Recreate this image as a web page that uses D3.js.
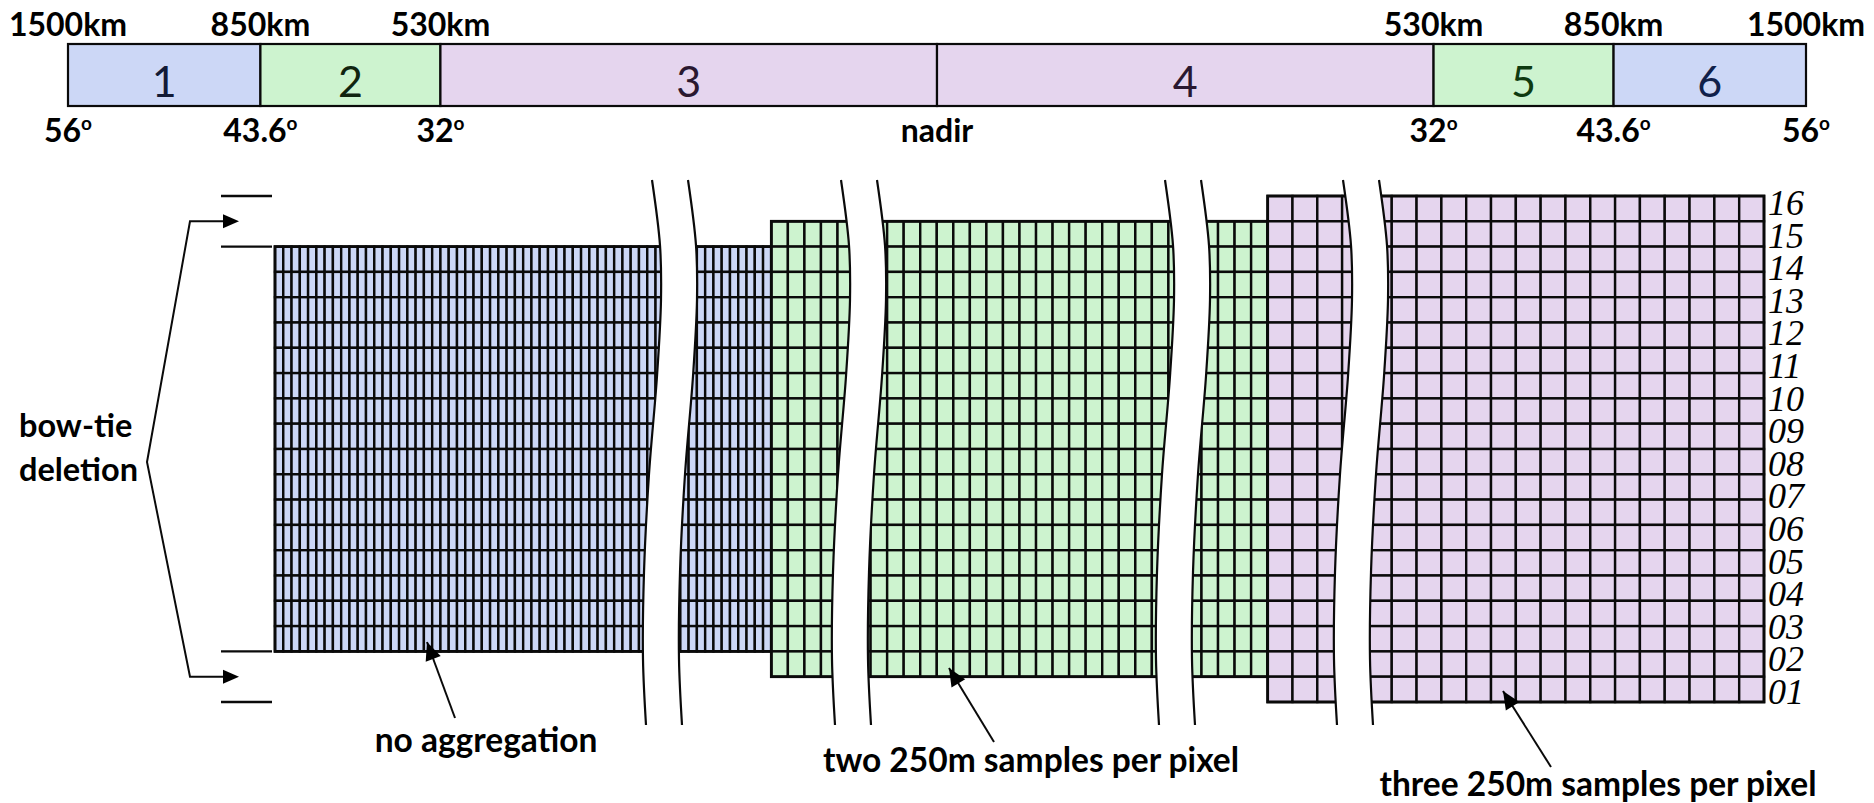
<!DOCTYPE html>
<html><head><meta charset="utf-8">
<script src="https://cdn.jsdelivr.net/npm/d3@7/dist/d3.min.js"></script>
<style>body{margin:0;background:#fff} svg{display:block}</style>
</head><body>
<svg id="c" width="1874" height="803"></svg>
<script>
// ---------------- data ----------------
const zoneNames = ["1","2","3","4","5","6"];
const zoneBounds = [-56, -43.6, -32, 0, 32, 43.6, 56];          // scan angle, degrees
const zoneAggregation = [0, 1, 2, 2, 1, 0];                     // index into aggregation arrays
const kmLabels = ["1500km","850km","530km","530km","850km","1500km"];
const kmAngles = [-56, -43.6, -32, 32, 43.6, 56];
const angleLabels = ["56","43.6","32","nadir","32","43.6","56"];
const angleLabelAngles = [-56, -43.6, -32, 0, 32, 43.6, 56];
const aggregationNames = ["no aggregation","two 250m samples per pixel","three 250m samples per pixel"];
const samplesPerPixel = [1, 2, 3];
const pixelColumns = [60, 30, 20];
const pixelRows = [16, 18, 20];
const detectorLabels = ["01","02","03","04","05","06","07","08","09","10","11","12","13","14","15","16"];
const bowTieLabel = ["bow-tie","deletion"];

// ---------------- styles / layout ----------------
const fills = ["#ccd7f6", "#cdf3cf", "#e5d5ee"];
const numColors = ["#121a36", "#10240f", "#2a1830", "#2a1830", "#0e3a10", "#10204a"];
const sans = "Lato, 'Open Sans', sans-serif";
const serif = "'Liberation Serif', 'DejaVu Serif', serif";
const ink = "#0a0a0a";
const boldSize = 32.5;

const svg = d3.select("#c");

// ---- top scan bar ----
const x = d3.scaleLinear().domain([-56, 56]).range([68, 1806]);
const barTop = 44, barBot = 106;
const zones = zoneNames.map((n, i) => ({name: n, a0: zoneBounds[i], a1: zoneBounds[i + 1], agg: zoneAggregation[i], i}));

svg.append("g").selectAll("rect").data(zones).join("rect")
  .attr("x", d => x(d.a0)).attr("y", barTop)
  .attr("width", d => x(d.a1) - x(d.a0)).attr("height", barBot - barTop)
  .attr("fill", d => fills[d.agg]).attr("stroke", ink).attr("stroke-width", 2.2);

svg.append("g").selectAll("text").data(zones).join("text")
  .attr("x", d => (x(d.a0) + x(d.a1)) / 2).attr("y", 97)
  .attr("text-anchor", "middle").attr("font-family", sans).attr("font-size", 43)
  .attr("fill", d => numColors[d.i]).text(d => d.name);

svg.append("g").selectAll("text").data(kmLabels).join("text")
  .attr("x", (d, i) => x(kmAngles[i])).attr("y", 36)
  .attr("text-anchor", "middle").attr("font-family", sans).attr("font-weight", 700)
  .attr("font-size", 32).attr("fill", "#000").text(d => d);

const al = svg.append("g").selectAll("text").data(angleLabels).join("text")
  .attr("x", (d, i) => x(angleLabelAngles[i])).attr("y", 142)
  .attr("text-anchor", "middle").attr("font-family", sans).attr("font-weight", 700)
  .attr("font-size", 32).attr("fill", "#000");
al.append("tspan").text(d => d);
al.filter(d => d !== "nadir").append("tspan").attr("font-size", 19).attr("dy", -12).text("o");

// ---- pixel grids ----
const gx = d3.scaleLinear().domain([0, 3]).range([275, 1764]);
const gy = d3.scaleLinear().domain([0, 20]).range([196, 702]);

const gridG = svg.append("g");
samplesPerPixel.forEach((s, i) => {
  const r0 = (20 - pixelRows[i]) / 2;
  const cx = d3.scaleLinear().domain([0, pixelColumns[i]]).range([gx(i), gx(i + 1)]);
  const cy = d3.scaleLinear().domain([0, pixelRows[i]]).range([gy(r0), gy(r0 + pixelRows[i])]);
  const cells = [];
  for (let r = 0; r < pixelRows[i]; r++) for (let c = 0; c < pixelColumns[i]; c++) cells.push({r, c});
  const g = gridG.append("g");
  g.selectAll("rect").data(cells).join("rect")
    .attr("x", d => cx(d.c)).attr("y", d => cy(d.r))
    .attr("width", cx(1) - cx(0)).attr("height", cy(1) - cy(0))
    .attr("fill", fills[i]).attr("stroke", ink).attr("stroke-width", 2.4);
  g.append("rect").attr("x", cx(0)).attr("y", cy(0))
    .attr("width", cx(pixelColumns[i]) - cx(0)).attr("height", cy(pixelRows[i]) - cy(0))
    .attr("fill", "none").attr("stroke", ink).attr("stroke-width", 2.8);
});

// ---- breaks (wavy gaps) ----
const breakX = [652, 841, 1165, 1343];
const breakGap = 36, breakTop = 180, breakBot = 725;
const shape = [[0, 0], [0.12, 8], [0.22, 9], [0.36, 5], [0.54, -3], [0.72, -8], [0.88, -9], [1, -6]];
const curve = d3.line().curve(d3.curveCatmullRom);
const by = d3.scaleLinear().domain([0, 1]).range([breakTop, breakBot]);
breakX.forEach(bx => {
  const lp = shape.map(p => [bx + p[1], by(p[0])]);
  const rp = shape.map(p => [bx + breakGap + p[1], by(p[0])]);
  const lPath = curve(lp), rPath = curve(rp.slice().reverse());
  svg.append("path").attr("d", lPath + "L" + rPath.slice(1) + "Z").attr("fill", "#fff").attr("stroke", "none");
  svg.append("path").attr("d", curve(lp)).attr("fill", "none").attr("stroke", ink).attr("stroke-width", 2.2);
  svg.append("path").attr("d", curve(rp)).attr("fill", "none").attr("stroke", ink).attr("stroke-width", 2.2);
});

// ---- arrowheads ----
function arrowHead(g, tip, from, len = 16, half = 7) {
  const ang = Math.atan2(tip[1] - from[1], tip[0] - from[0]);
  const bx = tip[0] - len * Math.cos(ang), byy = tip[1] - len * Math.sin(ang);
  const px = -Math.sin(ang) * half, py = Math.cos(ang) * half;
  g.append("path").attr("d", `M${tip[0]},${tip[1]}L${bx + px},${byy + py}L${bx - px},${byy - py}Z`).attr("fill", "#000");
}

// ---- bow-tie deletion bracket ----
const bt = svg.append("g");
[0, 2, 18, 20].forEach(r => {
  bt.append("line").attr("x1", 221).attr("x2", 272).attr("y1", gy(r)).attr("y2", gy(r))
    .attr("stroke", ink).attr("stroke-width", 2.4);
});
const yTopArrow = gy(1), yBotArrow = gy(19), yApex = 462;
bt.append("path").attr("d", `M226,${yTopArrow}L190,${yTopArrow}L147,${yApex}L190,${yBotArrow}L226,${yBotArrow}`)
  .attr("fill", "none").attr("stroke", ink).attr("stroke-width", 2);
arrowHead(bt, [239, yTopArrow], [190, yTopArrow]);
arrowHead(bt, [239, yBotArrow], [190, yBotArrow]);
bt.selectAll("text").data(bowTieLabel).join("text")
  .attr("x", 19).attr("y", (d, i) => 437 + i * 44)
  .attr("font-family", sans).attr("font-weight", 700).attr("font-size", boldSize).attr("fill", "#000").text(d => d);

// ---- detector labels ----
const dy = d3.scaleLinear().domain([1, 16]).range([692, 203]);
svg.append("g").selectAll("text").data(detectorLabels).join("text")
  .attr("x", 1768).attr("y", d => dy(+d) + 12)
  .attr("font-family", serif).attr("font-style", "italic").attr("font-size", 36)
  .attr("fill", "#000").text(d => d);

// ---- aggregation annotations ----
const annTip = [[427, 642], [949, 668], [1503, 691]];
const annTail = [[455, 718], [994, 742], [1551, 767]];
const annText = [[486, 752], [1031, 772], [1598, 796]];
const an = svg.append("g");
aggregationNames.forEach((t, i) => {
  an.append("line").attr("x1", annTail[i][0]).attr("y1", annTail[i][1])
    .attr("x2", annTip[i][0]).attr("y2", annTip[i][1]).attr("stroke", ink).attr("stroke-width", 2);
  arrowHead(an, annTip[i], annTail[i], 18, 8);
  an.append("text").attr("x", annText[i][0]).attr("y", annText[i][1]).attr("text-anchor", "middle")
    .attr("font-family", sans).attr("font-weight", 700).attr("font-size", boldSize + 1).attr("fill", "#000").text(t);
});
</script>
</body></html>
